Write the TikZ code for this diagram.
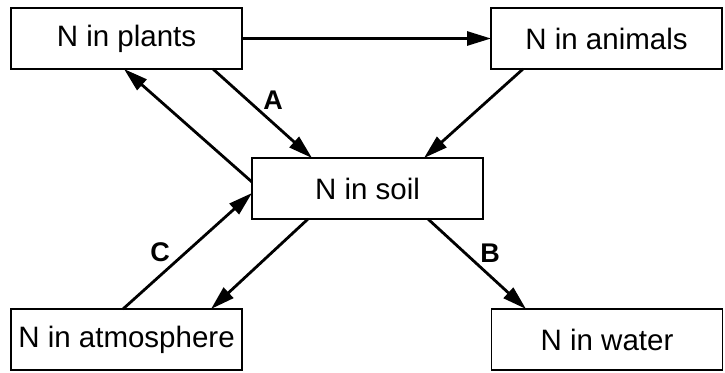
\documentclass[tikz,border=0pt]{standalone}
\usepackage{fontspec}
\setmainfont{Liberation Sans}
\usetikzlibrary{arrows.meta,calc}
\begin{document}
\begin{tikzpicture}[x=1pt,y=-1pt,
  box/.style={draw, line width=1.1pt, minimum width=231pt, minimum height=61pt, inner sep=0pt, outer sep=0pt, font=\fontsize{29.5}{34}\selectfont},
  flow/.style={line width=2.8pt, -{Triangle[length=24pt,width=14pt]}},
  lab/.style={font=\fontsize{27}{31}\selectfont\bfseries}]
\useasboundingbox (0,0) rectangle (725,372);
\node[box] (plants) at (126.5,38.5) {N in plants};
\node[box] (animals) at (606.5,38.5) {N in animals};
\node[box] (soil) at (367.5,188.5) {N in soil};
\node[box] (atm) at (126.5,339.5) {N in atmosphere};
\node[box] (water) at (607,339.5) {N in water};
\draw[flow] (plants.east) -- (animals.west);
\draw[flow] ($(plants.south)+(86.5,0)$) -- ($(soil.north)+(-55.5,0)$);
\draw[flow] ($(soil.west)+(0,-6.5)$) -- ($(plants.south)+(-2.5,0)$);
\draw[flow] ($(animals.south)+(-83.5,0)$) -- ($(soil.north)+(56.5,0)$);
\draw[flow] ($(soil.south)+(-59.5,0)$) -- ($(atm.north)+(84.5,0)$);
\draw[flow] ($(atm.north)+(-3.5,0)$) -- ($(soil.west)+(0,4.5)$);
\draw[flow] ($(soil.south)+(60.5,0)$) -- ($(water.north)+(-81,0)$);
\node[lab] (la) at (273,100) {A};
\node[lab] (lb) at (490,253) {B};
\node[lab] (lc) at (160,252) {C};
\end{tikzpicture}
\end{document}
